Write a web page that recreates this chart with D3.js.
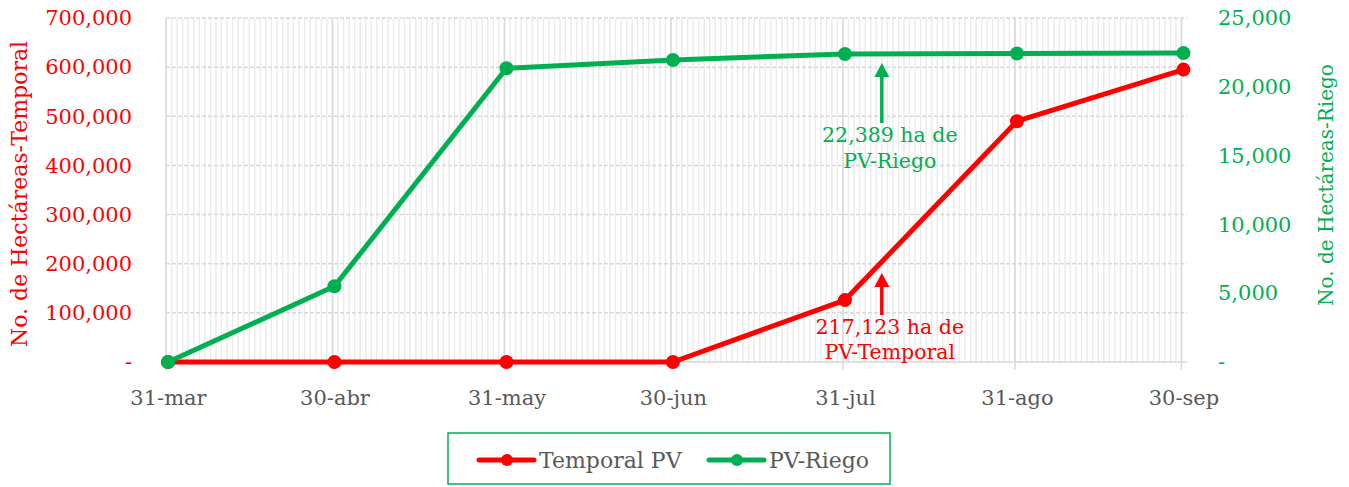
<!DOCTYPE html>
<html>
<head>
<meta charset="utf-8">
<script src="https://cdn.jsdelivr.net/npm/d3@7"></script>
<style>
  body { margin: 0; background: #fff; }
  text { font-family: "DejaVu Serif", serif; }
</style>
</head>
<body>
<script>
// Data
const dates = ['2023-03-31', '2023-04-30', '2023-05-31', '2023-06-30', '2023-07-31', '2023-08-31', '2023-09-30'];
const dateLabels = ['31-mar', '30-abr', '31-may', '30-jun', '31-jul', '31-ago', '30-sep'];
const temporal = [0, 0, 0, 0, 126000, 490000, 595000];
const riego = [0, 5500, 21350, 21950, 22389, 22420, 22450];
const leftTicks = [0, 100000, 200000, 300000, 400000, 500000, 600000, 700000];
const rightTicks = [0, 5000, 10000, 15000, 20000, 25000];

const width = 1349, height = 487;
const red = '#FF0000', green = '#00B050', gray = '#595959';
const parse = d3.timeParse('%Y-%m-%d');
const days = dates.map(parse);

const x = d3.scaleTime()
    .domain([parse('2023-03-31'), parse('2023-10-01')])
    .range([166, 1187]);
const yL = d3.scaleLinear().domain([0, 700000]).range([362, 18]);
const yR = d3.scaleLinear().domain([0, 25000]).range([362, 18]);

const fmt = v => v === 0 ? '-' : d3.format(',')(v);

const svg = d3.select('body')
    .append('svg')
    .attr('width', width)
    .attr('height', height);

// Minor daily gridlines
svg.append('g')
    .selectAll('line')
    .data(d3.timeDay.range(x.domain()[0], x.domain()[1]))
    .enter().append('line')
    .attr('x1', d => x(d)).attr('x2', d => x(d))
    .attr('y1', 18).attr('y2', 362)
    .attr('stroke', '#ececec').attr('stroke-width', 1.5);

// Horizontal dashed gridlines
svg.append('g')
    .selectAll('line')
    .data(leftTicks)
    .enter().append('line')
    .attr('x1', 166).attr('x2', 1187)
    .attr('y1', d => yL(d)).attr('y2', d => yL(d))
    .attr('stroke', '#d9d9d9').attr('stroke-width', 1.5)
    .attr('stroke-dasharray', d => d === 0 ? null : '4,2');

// Major vertical gridlines
svg.append('g')
    .selectAll('line')
    .data(days)
    .enter().append('line')
    .attr('x1', d => x(d)).attr('x2', d => x(d))
    .attr('y1', 18).attr('y2', 370)
    .attr('stroke', '#d9d9d9').attr('stroke-width', 1.5);

// Left axis
const axL = svg.append('g')
    .attr('transform', 'translate(132,0)')
    .call(d3.axisLeft(yL).tickValues(leftTicks).tickFormat(fmt).tickSize(0).tickPadding(0));
axL.select('.domain').remove();
axL.selectAll('text').attr('fill', red).style('font-size', '21px');

// Right axis
const axR = svg.append('g')
    .attr('transform', 'translate(1218,0)')
    .call(d3.axisRight(yR).tickValues(rightTicks).tickFormat(fmt).tickSize(0).tickPadding(0));
axR.select('.domain').remove();
axR.selectAll('text').attr('fill', green).style('font-size', '21px');

// Bottom axis
const axB = svg.append('g')
    .attr('transform', 'translate(2,390)')
    .call(d3.axisBottom(x).tickValues(days).tickFormat((d, i) => dateLabels[i]).tickSize(0).tickPadding(0));
axB.select('.domain').remove();
axB.selectAll('text').attr('fill', gray).style('font-size', '21px');

// Axis titles
svg.append('text')
    .attr('transform', 'translate(27,194) rotate(-90)')
    .attr('text-anchor', 'middle')
    .attr('fill', red)
    .style('font-size', '22px')
    .text('No. de Hectáreas-Temporal');

svg.append('text')
    .attr('transform', 'translate(1333,185) rotate(-90)')
    .attr('text-anchor', 'middle')
    .attr('fill', green)
    .style('font-size', '20px')
    .text('No. de Hectáreas-Riego');

// Series (markers sit slightly right of the month gridlines, as in the original)
const series = [
    { values: temporal, y: yL, color: red },
    { values: riego, y: yR, color: green }
];

series.forEach(s => {
    const g = svg.append('g').attr('transform', 'translate(2,0)');
    const line = d3.line().x((d, i) => x(days[i])).y(d => s.y(d));
    g.append('path')
        .datum(s.values)
        .attr('d', line)
        .attr('fill', 'none')
        .attr('stroke', s.color)
        .attr('stroke-width', 5)
        .attr('stroke-linejoin', 'round');
    g.selectAll('circle')
        .data(s.values)
        .enter().append('circle')
        .attr('cx', (d, i) => x(days[i]))
        .attr('cy', d => s.y(d))
        .attr('r', 7)
        .attr('fill', s.color);
});

// Annotations
function arrow(xp, yTip, yEnd, color) {
    svg.append('line')
        .attr('x1', xp).attr('x2', xp)
        .attr('y1', yTip + 12).attr('y2', yEnd)
        .attr('stroke', color).attr('stroke-width', 3.5);
    svg.append('path')
        .attr('d', `M${xp},${yTip} L${xp - 7.5},${yTip + 14} L${xp + 7.5},${yTip + 14} Z`)
        .attr('fill', color);
}
const annX = x(d3.timeDay.offset(days[4], 7));
const textX = annX + 8;
arrow(annX, 63, 123, green);
arrow(annX, 273, 315, red);

const annG = svg.append('text')
    .attr('text-anchor', 'middle').attr('fill', green).style('font-size', '20.5px');
annG.append('tspan').attr('x', textX).attr('y', 142).text('22,389 ha de');
annG.append('tspan').attr('x', textX).attr('y', 168).text('PV-Riego');

const annR = svg.append('text')
    .attr('text-anchor', 'middle').attr('fill', red).style('font-size', '20.5px');
annR.append('tspan').attr('x', textX).attr('y', 334).text('217,123 ha de');
annR.append('tspan').attr('x', textX).attr('y', 359).text('PV-Temporal');

// Legend
svg.append('rect')
    .attr('x', 448).attr('y', 433)
    .attr('width', 442).attr('height', 51)
    .attr('fill', 'none').attr('stroke', green).attr('stroke-width', 1.5);

const legendItems = [
    { label: 'Temporal PV', color: red, x0: 479 },
    { label: 'PV-Riego', color: green, x0: 709 }
];
legendItems.forEach(l => {
    svg.append('line')
        .attr('x1', l.x0).attr('x2', l.x0 + 55)
        .attr('y1', 460).attr('y2', 460)
        .attr('stroke', l.color).attr('stroke-width', 5).attr('stroke-linecap', 'round');
    svg.append('circle')
        .attr('cx', l.x0 + 28).attr('cy', 460).attr('r', 6)
        .attr('fill', l.color);
    svg.append('text')
        .attr('x', l.x0 + 60).attr('y', 468)
        .attr('fill', gray).style('font-size', '22px')
        .text(l.label);
});
</script>
</body>
</html>
